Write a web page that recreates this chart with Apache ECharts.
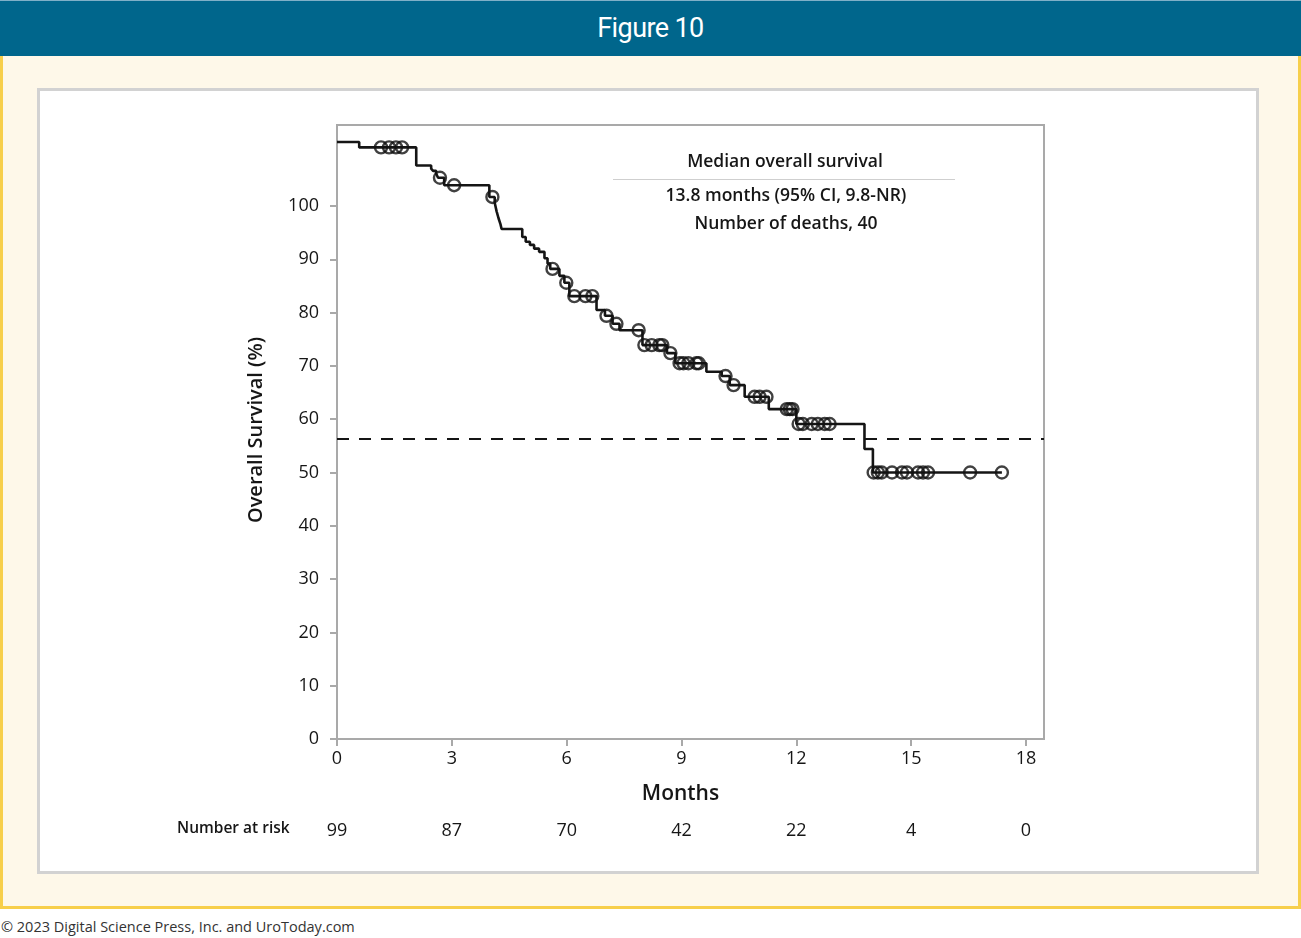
<!DOCTYPE html>
<html>
<head>
<meta charset="utf-8">
<script src="https://cdn.jsdelivr.net/npm/echarts@6/dist/echarts.min.js"></script>
<style>
  html, body { margin: 0; padding: 0; background: #ffffff; }
  body { width: 1301px; height: 938px; position: relative; overflow: hidden; font-family: "Open Sans", "Noto Sans", sans-serif; }
  #header { position: absolute; left: 0; top: 0; width: 1301px; height: 56px; background: #00668c; border-top: 1px solid #7fb0c8; box-sizing: border-box; color: #fff; text-align: center; line-height: 54px; font-family: Roboto, "Noto Sans", sans-serif; font-size: 27px; font-weight: 400; letter-spacing: -0.6px; }
  #panel { position: absolute; left: 0; top: 56px; width: 1301px; height: 853px; box-sizing: border-box; background: #fef8e9; border-left: 3px solid #f7cf4b; border-right: 3px solid #f7cf4b; border-bottom: 3px solid #f7cf4b; }
  #white { position: absolute; left: 37px; top: 88px; width: 1222px; height: 786px; box-sizing: border-box; background: #ffffff; border: 3px solid #d2d2d2; }
  #footer { position: absolute; left: 1px; top: 917px; font-size: 14.5px; color: #333; }
  #chart { position: absolute; left: 0; top: 0; width: 1301px; height: 938px; }
</style>
</head>
<body>
<div id="header">Figure 10</div>
<div id="panel"></div>
<div id="white"></div>
<div id="footer">© 2023 Digital Science Press, Inc. and UroToday.com</div>
<div id="chart"></div>
<script>
// ---- data ----
const stepTimes  = [0, 0.58, 2.07, 2.46, 2.51, 2.59, 2.64, 2.80, 3.98, 4.12, 4.17, 4.22, 4.27, 4.30, 4.84, 4.93, 5.04, 5.15, 5.28, 5.42, 5.50, 5.57, 5.81, 5.94, 6.07, 6.78, 7.00, 7.20, 7.38, 7.98, 8.62, 8.84, 9.65, 10.05, 10.26, 10.65, 11.28, 12.00, 13.78, 14.00, 17.37];
const stepValues = [112.0, 111.0, 107.6, 107.0, 106.6, 106.1, 105.3, 103.9, 101.7, 100.6, 99.0, 97.7, 96.6, 95.7, 94.2, 93.3, 92.7, 92.0, 91.4, 90.2, 89.2, 88.2, 86.9, 85.6, 83.1, 80.5, 79.4, 77.9, 76.7, 73.9, 72.4, 70.5, 68.9, 68.1, 66.4, 64.2, 61.9, 59.1, 54.4, 50.0, 50.0];

const censorTimes  = [1.15, 1.36, 1.54, 1.70, 2.69, 3.06, 4.06, 5.63, 5.99, 6.20, 6.49, 6.67, 7.04, 7.30, 7.88, 8.03, 8.22, 8.42, 8.50, 8.71, 8.95, 9.05, 9.18, 9.39, 9.45, 10.15, 10.36, 10.91, 11.04, 11.22, 11.75, 11.83, 11.90, 12.06, 12.17, 12.40, 12.56, 12.74, 12.87, 14.02, 14.13, 14.23, 14.50, 14.76, 14.89, 15.18, 15.31, 15.44, 16.54, 17.37];
const censorValues = [111.0, 111.0, 111.0, 111.0, 105.3, 103.9, 101.7, 88.2, 85.6, 83.1, 83.1, 83.1, 79.4, 77.9, 76.7, 73.9, 73.9, 73.9, 73.9, 72.4, 70.5, 70.5, 70.5, 70.5, 70.5, 68.1, 66.4, 64.2, 64.2, 64.2, 61.9, 61.9, 61.9, 59.1, 59.1, 59.1, 59.1, 59.1, 59.1, 50.0, 50.0, 50.0, 50.0, 50.0, 50.0, 50.0, 50.0, 50.0, 50.0, 50.0];

const xTicks = [0, 3, 6, 9, 12, 15, 18];
const yTicks = [0, 10, 20, 30, 40, 50, 60, 70, 80, 90, 100];
const atRisk = [99, 87, 70, 42, 22, 4, 0];
const medianLineValue = 56.3;
const annotationLines = ["Median overall survival", "13.8 months (95% CI, 9.8-NR)", "Number of deaths, 40"];

// ---- chart ----
const FONT = '"Open Sans", "Noto Sans", sans-serif';
const INK = '#161616';
const FRAME = '#a9a9a9';

const stepData = stepTimes.map((t, i) => [t, stepValues[i]]);
const censorData = censorTimes.map((t, i) => [t, censorValues[i]]);
const riskMap = {};
xTicks.forEach((t, i) => { riskMap[t] = atRisk[i]; });

const chart = echarts.init(document.getElementById('chart'), null, { renderer: 'canvas' });

const option = {
  backgroundColor: 'transparent',
  animation: false,
  textStyle: { fontFamily: FONT },
  grid: {
    left: 337, top: 125, width: 707, height: 614,
    show: true, borderColor: FRAME, borderWidth: 2, backgroundColor: 'transparent'
  },
  xAxis: [
    {
      type: 'value', min: 0, max: 18.47, interval: 3,
      name: 'Months', nameLocation: 'middle', nameGap: 45,
      nameTextStyle: { fontSize: 21, fontWeight: 600, color: INK, fontFamily: FONT, padding: [0, 20, 0, 0] },
      axisLine: { show: true, onZero: false, lineStyle: { color: FRAME, width: 2 } },
      axisTick: { show: true, length: 7, lineStyle: { color: FRAME, width: 2 }, customValues: xTicks },
      axisLabel: { fontSize: 18, color: INK, margin: 11, fontFamily: FONT, customValues: xTicks,
        formatter: v => (xTicks.indexOf(v) >= 0 ? String(v) : '') },
      splitLine: { show: false }
    },
    {
      type: 'value', min: 0, max: 18.47, interval: 3, position: 'bottom', offset: 75,
      axisLine: { show: false }, axisTick: { show: false }, splitLine: { show: false },
      axisLabel: { fontSize: 18, color: INK, margin: 8, fontFamily: FONT, customValues: xTicks,
        formatter: v => (riskMap[v] !== undefined ? String(riskMap[v]) : '') }
    }
  ],
  yAxis: {
    type: 'value', min: 0, max: 115.2, interval: 10,
    name: 'Overall Survival (%)', nameLocation: 'middle', nameGap: 71,
    nameTextStyle: { fontSize: 20, fontWeight: 600, color: INK, fontFamily: FONT, padding: [0, 0, 0, 4] },
    axisLine: { show: true, onZero: false, lineStyle: { color: FRAME, width: 2 } },
    axisTick: { show: true, length: 7, lineStyle: { color: FRAME, width: 2 }, customValues: yTicks },
    axisLabel: { fontSize: 18, color: INK, margin: 18, fontFamily: FONT, customValues: yTicks,
      formatter: v => (v <= 100 ? String(v) : '') },
    splitLine: { show: false }
  },
  series: [
    {
      type: 'line', step: 'end', data: stepData, showSymbol: false, symbol: 'none',
      lineStyle: { color: '#151515', width: 2.6 },
      markLine: {
        silent: true, symbol: 'none', label: { show: false },
        lineStyle: { color: '#151515', width: 2, type: [12, 10] },
        data: [{ yAxis: medianLineValue }]
      },
      z: 3
    },
    {
      type: 'scatter', data: censorData, symbol: 'circle', symbolSize: 12,
      itemStyle: { color: 'rgba(0,0,0,0)', borderColor: '#111111', borderWidth: 2.4 },
      z: 4
    }
  ],
  graphic: [
    { type: 'text', left: 177, top: 821, style: { text: 'Number at risk', fontSize: 15.5, fontWeight: 600, fill: INK, fontFamily: FONT } },
    { type: 'text', x: 785, y: 162, style: { text: annotationLines[0], fontSize: 17.5, fill: INK, fontFamily: FONT, align: 'center', verticalAlign: 'middle', fontWeight: 600 } },
    { type: 'line', shape: { x1: 613, y1: 179.5, x2: 955, y2: 179.5 }, style: { stroke: '#cfcfcf', lineWidth: 1 } },
    { type: 'text', x: 786, y: 196, style: { text: annotationLines[1], fontSize: 17.5, fill: INK, fontFamily: FONT, align: 'center', verticalAlign: 'middle', fontWeight: 600 } },
    { type: 'text', x: 786, y: 224, style: { text: annotationLines[2], fontSize: 17.5, fill: INK, fontFamily: FONT, align: 'center', verticalAlign: 'middle', fontWeight: 600 } }
  ]
};
chart.setOption(option);
</script>
</body>
</html>
